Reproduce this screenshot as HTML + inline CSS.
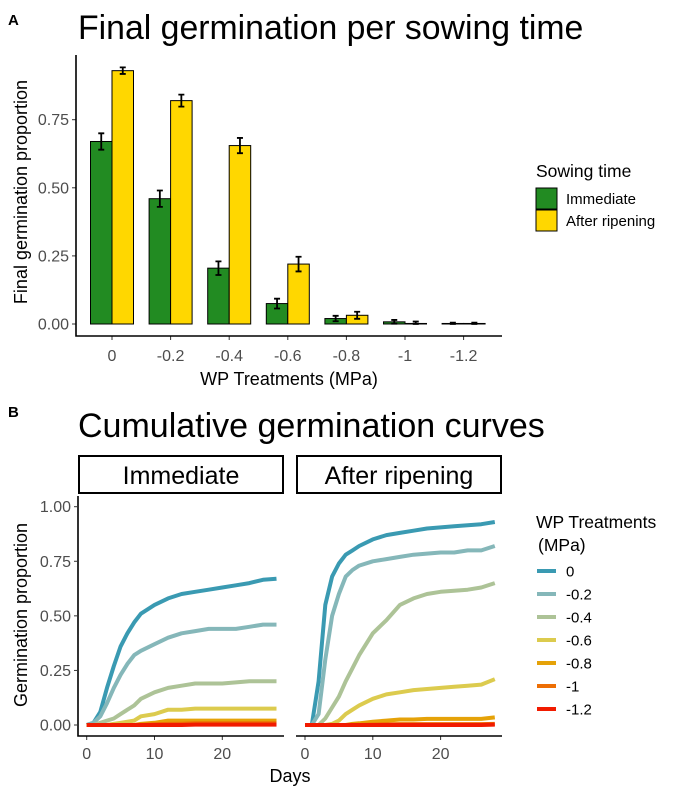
<!DOCTYPE html>
<html><head><meta charset="utf-8"><style>
html,body{margin:0;padding:0;background:#fff;}
svg{display:block;font-family:"Liberation Sans",Arial,sans-serif;}
</style></head><body>
<svg id="fig" width="684" height="797" viewBox="0 0 684 797" xmlns="http://www.w3.org/2000/svg">
<text x="8" y="25" font-size="15" font-weight="bold">A</text>
<text x="78" y="39" font-size="33.8">Final germination per sowing time</text>
<g id="barchart"></g>
<text x="8" y="417" font-size="15" font-weight="bold">B</text>
<text x="78" y="437" font-size="34">Cumulative germination curves</text>
<g id="linechart"></g>
</svg>
<script>
// ---- Chart A data ----
const categories = ["0","-0.2","-0.4","-0.6","-0.8","-1","-1.2"];
const immediateVals = [0.67,0.46,0.205,0.075,0.02,0.008,0.002];
const immediateErr = [0.03,0.03,0.025,0.018,0.01,0.007,0.003];
const afterVals = [0.93,0.82,0.655,0.22,0.032,0.002,0.002];
const afterErr = [0.012,0.022,0.028,0.027,0.013,0.007,0.003];
const yTicksA = [0,0.25,0.5,0.75];
const yTickLabelsA = ["0.00","0.25","0.50","0.75"];
// ---- Chart B data ----
const days = [0,1,2,3,4,5,6,7,8,10,12,14,16,18,20,22,24,26,28];
const treatments = ["0","-0.2","-0.4","-0.6","-0.8","-1","-1.2"];
const immSeries = [
 [0,0.01,0.06,0.17,0.27,0.36,0.42,0.47,0.51,0.55,0.58,0.60,0.61,0.62,0.63,0.64,0.65,0.665,0.67],
 [0,0.01,0.04,0.10,0.17,0.23,0.28,0.32,0.34,0.37,0.40,0.42,0.43,0.44,0.44,0.44,0.45,0.46,0.46],
 [0,0,0.01,0.02,0.03,0.05,0.07,0.09,0.12,0.15,0.17,0.18,0.19,0.19,0.19,0.195,0.2,0.2,0.2],
 [0,0,0,0,0.005,0.01,0.015,0.02,0.04,0.05,0.07,0.07,0.075,0.075,0.075,0.075,0.075,0.075,0.075],
 [0,0,0,0,0,0,0,0,0.005,0.01,0.02,0.02,0.02,0.02,0.02,0.02,0.02,0.02,0.02],
 [0,0,0,0,0,0,0,0,0,0.003,0.005,0.006,0.008,0.008,0.008,0.008,0.008,0.008,0.008],
 [0,0,0,0,0,0,0,0,0,0,0,0,0.002,0.002,0.002,0.002,0.002,0.002,0.002]
];
const aftSeries = [
 [0,0,0.2,0.55,0.68,0.74,0.78,0.8,0.82,0.85,0.87,0.88,0.89,0.9,0.905,0.91,0.915,0.92,0.93],
 [0,0,0.05,0.3,0.5,0.6,0.68,0.71,0.73,0.75,0.76,0.77,0.78,0.785,0.79,0.79,0.8,0.8,0.82],
 [0,0,0,0.03,0.08,0.13,0.2,0.26,0.32,0.42,0.48,0.55,0.58,0.6,0.61,0.615,0.62,0.63,0.65],
 [0,0,0,0,0.005,0.02,0.05,0.07,0.09,0.12,0.14,0.15,0.16,0.165,0.17,0.175,0.18,0.185,0.21],
 [0,0,0,0,0,0,0,0.005,0.008,0.015,0.02,0.025,0.025,0.028,0.028,0.028,0.028,0.028,0.035],
 [0,0,0,0,0,0,0,0,0,0.002,0.003,0.004,0.004,0.004,0.004,0.004,0.004,0.004,0.005],
 [0,0,0,0,0,0,0,0,0,0,0,0,0,0,0,0,0,0,0.002]
];
const yTicksB = [0,0.25,0.5,0.75,1];
const yTickLabelsB = ["0.00","0.25","0.50","0.75","1.00"];
const xTicksB = [0,10,20];
const colors = ["#3A9AB2","#85B7B9","#ADC397","#DCCB4E","#E5A208","#ED6E04","#F11B00"];

const NS="http://www.w3.org/2000/svg";
function mk(parent,tag,attrs,text){const e=document.createElementNS(NS,tag);for(const k in attrs)e.setAttribute(k,attrs[k]);if(text!==undefined)e.textContent=text;parent.appendChild(e);return e;}
const TICK=16, AXT=18, LEG=15, LEGT=17.5;

// ---- Chart A ----
const gA=document.getElementById('barchart');
const yA=v=>324-v*272.4;
const xA=i=>112+i*58.6;
const bw=21.5;
yTicksA.forEach((t,i)=>{
  const l=mk(gA,'line',{x1:72,x2:76,y1:yA(t),y2:yA(t),stroke:'#333','stroke-width':1});
  
  const tx=mk(gA,'text',{x:69,y:yA(t)+5.5,'font-size':TICK,fill:'#4d4d4d','text-anchor':'end'},yTickLabelsA[i]);
  
});
categories.forEach((c,i)=>{
  const cx=xA(i);
  [[immediateVals,immediateErr,'#228B22',cx-bw],[afterVals,afterErr,'#FFD700',cx]].forEach(([vals,errs,col,x0],s)=>{
    const v=vals[i];
    const r=mk(gA,'rect',{x:x0,y:yA(v),width:bw,height:Math.max(yA(0)-yA(v),0.5),fill:col,stroke:'#000','stroke-width':1});
    
    
    const mx=x0+bw/2,e=errs[i];
    const eb=mk(gA,'path',{d:`M${mx-3},${yA(v+e)}H${mx+3}M${mx},${yA(v+e)}V${yA(Math.max(v-e,0))}M${mx-3},${yA(Math.max(v-e,0))}H${mx+3}`,stroke:'#000','stroke-width':1.8,fill:'none'});
    
  });
  const tk=mk(gA,'line',{x1:cx,x2:cx,y1:336,y2:340,stroke:'#333'});
  
  const tl=mk(gA,'text',{x:cx,y:361,'font-size':TICK,fill:'#4d4d4d','text-anchor':'middle'},c);
  
});
const axA=mk(gA,'path',{d:'M76,55V336H502',stroke:'#000','stroke-width':1.6,fill:'none'});

const xtA=mk(gA,'text',{x:289,y:385,'font-size':AXT,'text-anchor':'middle'},'WP Treatments (MPa)');

const ytA=mk(gA,'text',{x:0,y:0,'font-size':AXT,'text-anchor':'middle',transform:'translate(27,192) rotate(-90)'},'Final germination proportion');

const lgt=mk(gA,'text',{x:536,y:177,'font-size':LEGT},'Sowing time');

[['Immediate','#228B22'],['After ripening','#FFD700']].forEach(([n,c],i)=>{
  const r=mk(gA,'rect',{x:536,y:188+i*22,width:21,height:21,fill:c,stroke:'#000','stroke-width':1});
  
  const t=mk(gA,'text',{x:566,y:204+i*22,'font-size':LEG},n);
  
});

// ---- Chart B ----
const gB=document.getElementById('linechart');
const yB=v=>725-v*218.3;
const panels=[{x0:78,x1:284,d0:86.7,name:'Immediate',series:immSeries},{x0:296,x1:502,d0:305,name:'After ripening',series:aftSeries}];
const pxDay=6.78;
panels.forEach((p,pi)=>{
  const xB=d=>p.d0+d*pxDay;
  const strip=mk(gB,'rect',{x:p.x0+1,y:456,width:p.x1-p.x0-2,height:37,fill:'#fff',stroke:'#000','stroke-width':2});
  
  const st=mk(gB,'text',{x:(p.x0+p.x1)/2,y:484,'font-size':25,'text-anchor':'middle'},p.name);
  
  p.series.forEach((vals,si)=>{
    const d=vals.map((v,k)=>(k?'L':'M')+xB(days[k]).toFixed(1)+','+yB(v).toFixed(1)).join('');
    const pl=mk(gB,'path',{d:d,stroke:colors[si],'stroke-width':4,fill:'none','stroke-linejoin':'round'});
    
    
  });
  xTicksB.forEach(t=>{
    const tk=mk(gB,'line',{x1:xB(t),x2:xB(t),y1:736,y2:740,stroke:'#333'});
    
    const tl=mk(gB,'text',{x:xB(t),y:759,'font-size':TICK,fill:'#4d4d4d','text-anchor':'middle'},String(t));
    
  });
  const ax=mk(gB,'path',{d:pi===0?`M${p.x0},496V736H${p.x1}`:`M${p.x0},736H${p.x1}`,stroke:'#000','stroke-width':1.6,fill:'none'});
  
});
yTicksB.forEach((t,i)=>{
  const l=mk(gB,'line',{x1:74,x2:78,y1:yB(t),y2:yB(t),stroke:'#333'});
  
  const tx=mk(gB,'text',{x:71,y:yB(t)+5.5,'font-size':TICK,fill:'#4d4d4d','text-anchor':'end'},yTickLabelsB[i]);
  
});
const xtB=mk(gB,'text',{x:290,y:782,'font-size':AXT,'text-anchor':'middle'},'Days');

const ytB=mk(gB,'text',{x:0,y:0,'font-size':AXT,'text-anchor':'middle',transform:'translate(27,615) rotate(-90)'},'Germination proportion');

const lt1=mk(gB,'text',{x:536,y:528,'font-size':LEGT},'WP Treatments');

const lt2=mk(gB,'text',{x:538,y:551,'font-size':LEGT},'(MPa)');

treatments.forEach((t,i)=>{
  const y=571+i*23;
  const k=mk(gB,'line',{x1:537,x2:556,y1:y,y2:y,stroke:colors[i],'stroke-width':4});
  
  const tx=mk(gB,'text',{x:566,y:y+5.5,'font-size':LEG},t);
  
});
</script>
</body></html>
